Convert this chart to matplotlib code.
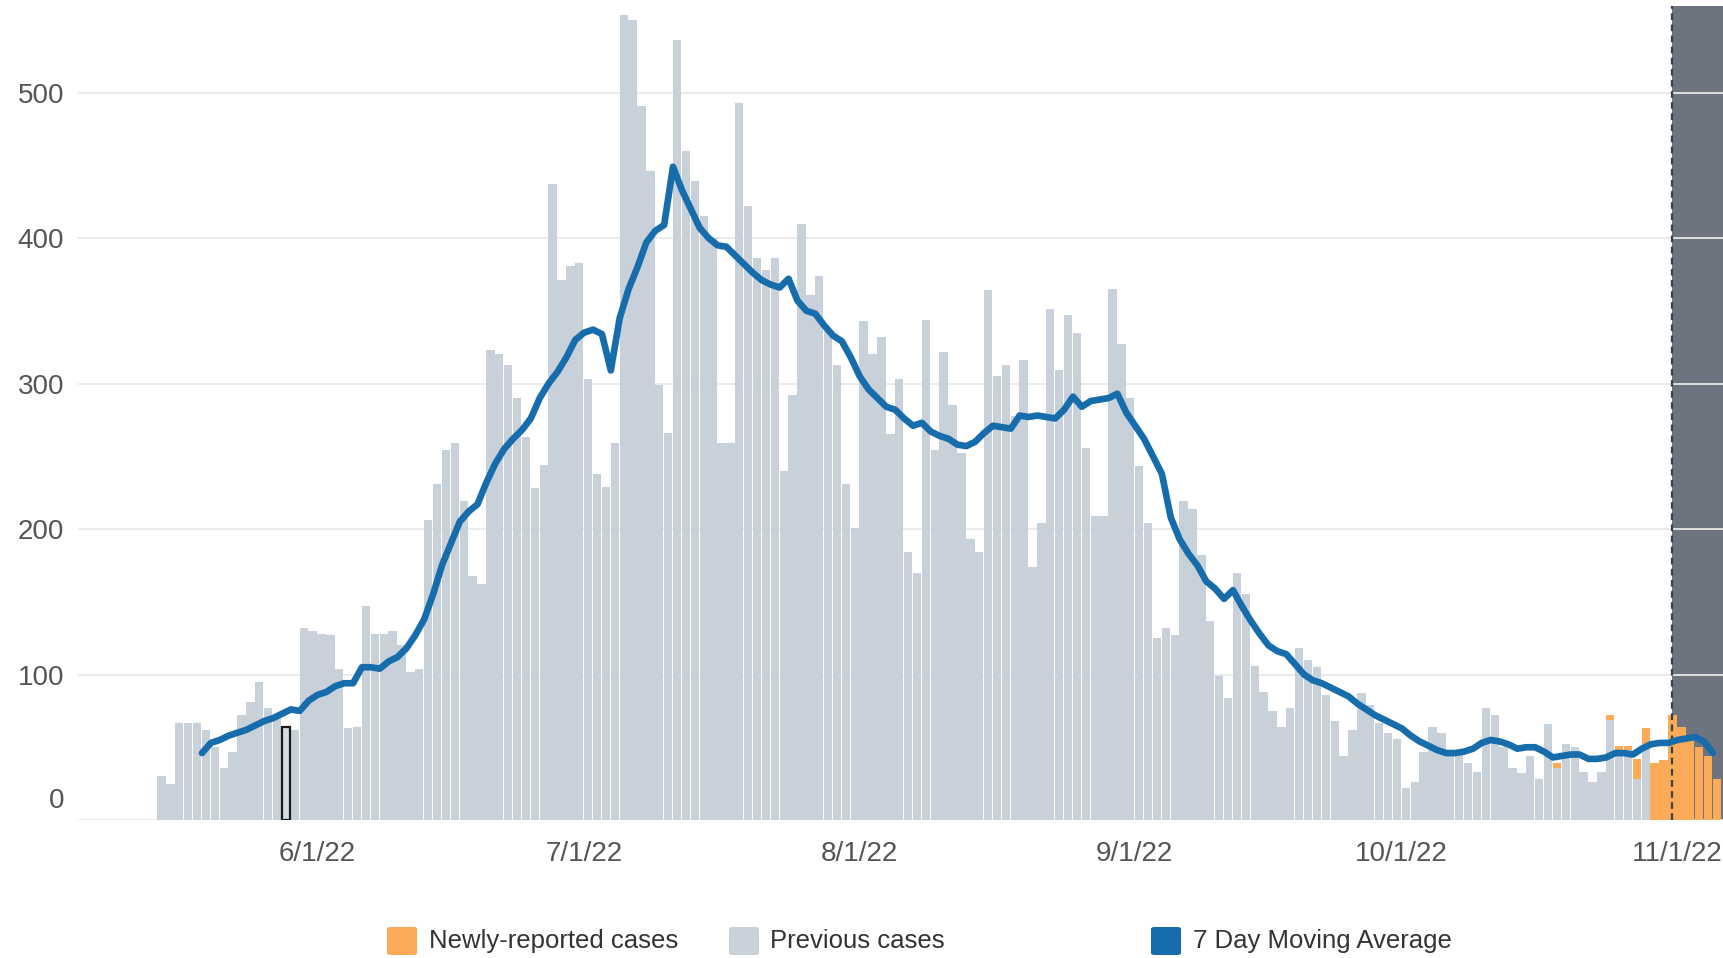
import matplotlib
matplotlib.use("Agg")
import matplotlib.pyplot as plt
import matplotlib.dates as mdates
from matplotlib.patches import FancyBboxPatch
import pandas as pd
import numpy as np

plt.rcParams['font.family'] = ['Liberation Sans', 'DejaVu Sans']

# ---------------- data ----------------
start_date = "2022-05-14"
previous_cases = [
    30, 25, 67, 67, 67, 62, 50, 36, 47, 72, 81, 95, 77, 71, 64, 62,
    132, 130, 128, 127, 104, 63, 64, 147, 128, 128, 130, 120, 102, 104,
    206, 231, 254, 259, 219, 168, 162, 323, 320, 313, 290, 263, 228, 244,
    437, 371, 381, 383, 303, 238, 229, 259, 553, 550, 491, 446, 299, 266,
    536, 460, 439, 415, 400, 259, 259, 493, 422, 386, 378, 386, 240, 292,
    410, 361, 374, 336, 313, 231, 201, 343, 320, 332, 265, 303, 184, 170,
    344, 254, 322, 285, 252, 193, 184, 364, 305, 313, 278, 316, 174, 204,
    351, 309, 347, 335, 256, 209, 209, 365, 327, 290, 243, 204, 125, 132,
    127, 219, 214, 182, 137, 99, 84, 170, 155, 106, 88, 75, 64, 77,
    118, 110, 105, 86, 68, 44, 62, 87, 79, 67, 60, 56, 22, 26,
    47, 64, 60, 46, 46, 39, 33, 77, 72, 50, 36, 32, 44, 28,
    66, 36, 52, 50, 33, 26, 33, 69, 48, 48, 28, 52, 0, 0,
    0, 0, 0, 0, 0, 0,
]
new_cases = [0] * 157 + [3, 0, 0, 0, 0, 0, 3, 3, 3, 14, 11, 39, 41,
                         72, 64, 58, 50, 44, 28]

avg_start_date = "2022-05-19"
moving_avg = [
    46, 53, 55, 58, 60, 62, 65, 68, 70, 73, 76, 75, 82, 86, 88, 92, 94, 94,
    105, 105, 104, 109, 112, 118, 127, 138, 155, 175, 190, 205, 212, 217,
    232, 245, 255, 262, 268, 276, 290, 300, 308, 318, 330, 335, 337, 334,
    309, 345, 365, 380, 397, 405, 409, 449, 433, 420, 407, 400, 395, 394,
    388, 382, 376, 371, 368, 366, 372, 357, 350, 348, 340, 333, 329, 318,
    305, 296, 290, 284, 282, 276, 271, 273, 267, 264, 262, 258, 257, 260,
    266, 271, 270, 269, 278, 277, 278, 277, 276, 282, 291, 284, 288, 289,
    290, 293, 280, 271, 262, 250, 238, 208, 193, 183, 175, 164, 159, 152,
    158, 147, 137, 128, 120, 116, 114, 107, 100, 96, 94, 91, 88, 85, 80,
    76, 72, 69, 66, 63, 58, 54, 51, 48, 46, 46, 47, 49, 53, 55, 54, 52,
    49, 50, 50, 47, 43, 44, 45, 45, 42, 42, 43, 46, 46, 45, 49, 52, 53,
    53, 55, 56, 57, 54, 46,
]

highlight_date = "2022-05-28"
recent_start = "2022-10-31"
tick_dates = ["2022-06-01", "2022-07-01", "2022-08-01", "2022-09-01",
              "2022-10-01", "2022-11-01"]
tick_labels = ["6/1/22", "7/1/22", "8/1/22", "9/1/22", "10/1/22", "11/1/22"]
y_ticks = [0, 100, 200, 300, 400, 500]

legend_labels = ["Newly-reported cases", "Previous cases", "7 Day Moving Average"]

# ---------------- style ----------------
GREY = "#c8d0da"
ORANGE = "#fbab58"
BLUE = "#176dab"
SHADE = "#6d7480"
TXT = "#555555"

W, H = 1724, 958
fig = plt.figure(figsize=(W / 100, H / 100), dpi=100)
ax = fig.add_axes([78 / W, (H - 820) / H, 1 - 78 / W, (820 - 6) / H])

dates = pd.date_range(start_date, periods=len(previous_cases), freq="D")
xb = mdates.date2num(dates.to_pydatetime()) + 0.5
prev = np.array(previous_cases, dtype=float)
new = np.array(new_cases, dtype=float)

BW = 0.94
ax.bar(xb, prev, width=BW, color=GREY, linewidth=0, zorder=2)
ax.bar(xb, new, bottom=prev, width=BW, color=ORANGE, linewidth=0, zorder=2)

hi = list(dates).index(pd.Timestamp(highlight_date))
ax.bar(xb[hi], prev[hi], width=0.95, facecolor="#d5dbe2", edgecolor="#1a1a1a",
       linewidth=1.6, zorder=2.5)

avg_dates = pd.date_range(avg_start_date, periods=len(moving_avg), freq="D")
xl = mdates.date2num(avg_dates.to_pydatetime()) + 0.05
ax.plot(xl, moving_avg, color=BLUE, lw=4.8, solid_joinstyle="round",
        solid_capstyle="round", zorder=3)

x0 = mdates.date2num(dates[0].to_pydatetime())
xmin, xmax = x0 - 8.9, x0 + 176.3
rs = mdates.date2num(pd.Timestamp(recent_start).to_pydatetime()) + 0.4
ax.axvspan(rs, xmax, color=SHADE, zorder=0, lw=0)
ax.axvline(rs, color="#3a3e45", lw=1.6, ls=(0, (3, 2)), zorder=2.6)

ax.set_xlim(xmin, xmax)
ax.set_ylim(0, 559.5)
ax.set_axisbelow(True)
ax.yaxis.grid(True, color="#e8e8e8", lw=1.3)
ax.xaxis.grid(False)

ax.set_xticks([mdates.date2num(pd.Timestamp(d).to_pydatetime()) for d in tick_dates])
ax.set_xticklabels(tick_labels)
ax.set_yticks(y_ticks)
ax.set_yticklabels([("" if v == 0 else str(v)) for v in y_ticks])
ax.tick_params(axis="both", length=0, labelsize=20, colors=TXT)
ax.tick_params(axis="x", pad=15)
ax.tick_params(axis="y", pad=10)
ax.annotate("0", xy=(0, 0), xycoords=("axes fraction", "data"),
            xytext=(-14, 19), textcoords="offset pixels",
            ha="right", va="center", fontsize=20, color=TXT)
for s in ax.spines.values():
    s.set_visible(False)

# ---------------- legend ----------------
legend_colors = [ORANGE, GREY, BLUE]
patch_x = [387, 729, 1151]
text_x = [429, 770, 1193]
for lab, col, px, tx in zip(legend_labels, legend_colors, patch_x, text_x):
    p = FancyBboxPatch((px / W, (H - 955) / H), 30 / W, 28 / H,
                       boxstyle="round,pad=0,rounding_size=0.002",
                       transform=fig.transFigure, facecolor=col,
                       edgecolor="none")
    fig.patches.append(p)
    fig.text(tx / W, (H - 941) / H, lab, ha="left", va="center",
             fontsize=18.5, color="#333333")

fig.savefig("out.png", dpi=100)
